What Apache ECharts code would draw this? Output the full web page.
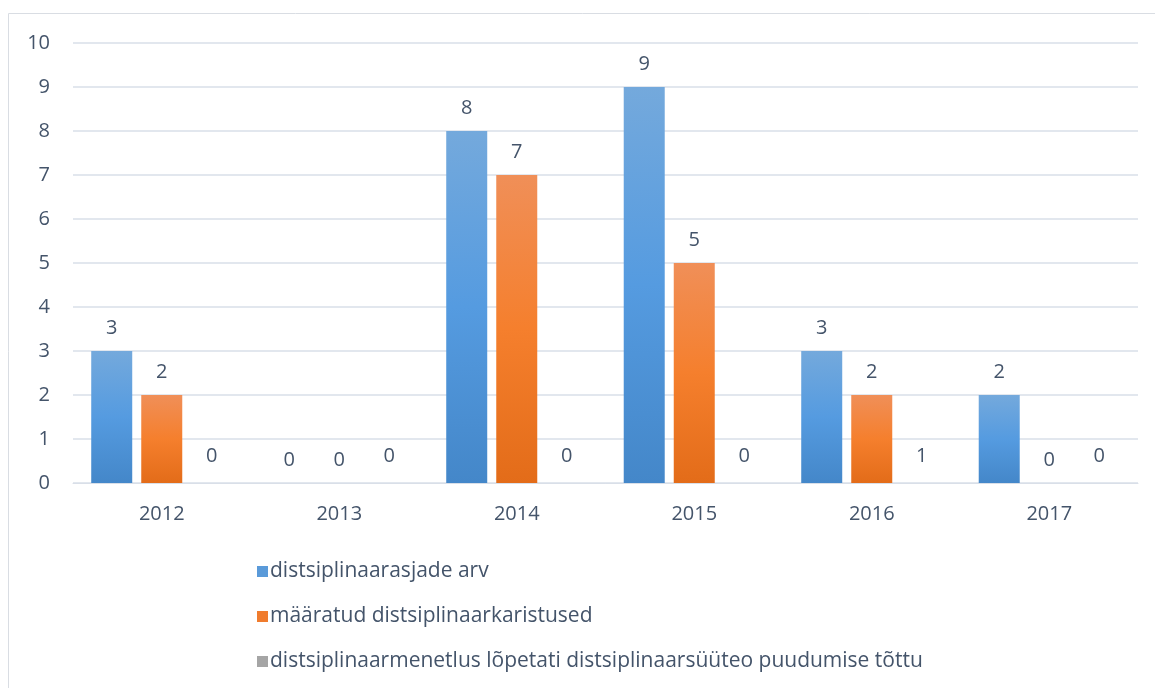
<!DOCTYPE html>
<html>
<head>
<meta charset="utf-8">
<script src="https://cdn.jsdelivr.net/npm/echarts@6/dist/echarts.min.js"></script>
<style>
  html, body { margin: 0; padding: 0; background: #fff; }
  #main { width: 1155px; height: 688px; }
</style>
</head>
<body>
<div id="main"></div>
<script>
var years = ['2012', '2013', '2014', '2015', '2016', '2017'];
var seriesNames = [
    'distsiplinaarasjade arv',
    'määratud distsiplinaarkaristused',
    'distsiplinaarmenetlus lõpetati distsiplinaarsüüteo puudumise tõttu'
];
var casesCount = [3, 0, 8, 9, 3, 2];
var penalties = [2, 0, 7, 5, 2, 0];
var terminated = [0, 0, 0, 0, 1, 0];
var yTicks = [0, 10, 1];

var textColor = '#44546a';
var font = 'Open Sans';
var fs = 20;

function grad(top, mid, bottom) {
    return new echarts.graphic.LinearGradient(0, 0, 0, 1, [
        { offset: 0, color: top },
        { offset: 0.5, color: mid },
        { offset: 1, color: bottom }
    ]);
}

var myChart = echarts.init(document.getElementById('main'));
var labelStyle = {
    show: true,
    position: 'top',
    distance: 13,
    color: textColor,
    fontSize: fs,
    fontFamily: font
};
option = {
    animation: false,
    graphic: [{
        type: 'rect',
        shape: { x: 8.5, y: 13.5, width: 1170, height: 700 },
        style: { fill: 'none', stroke: '#d9dde3', lineWidth: 1 }
    }],
    grid: { left: 73, right: 17, top: 43, bottom: 205 },
    legend: {
        orient: 'vertical',
        left: 252,
        top: 556,
        itemGap: 24,
        itemWidth: 11,
        itemHeight: 11,
        icon: 'rect',
        textStyle: { color: textColor, fontSize: fs + 1, lineHeight: 21, fontFamily: font, padding: [0, 0, 0, -3] },
        data: [
            { name: seriesNames[0], itemStyle: { color: '#5a9ad9' } },
            { name: seriesNames[1], itemStyle: { color: '#f07c2e' } },
            { name: seriesNames[2], itemStyle: { color: '#a5a5a5' } }
        ]
    },
    xAxis: {
        type: 'category',
        data: years,
        axisLine: { lineStyle: { color: '#d9dfe8' } },
        axisTick: { show: false },
        axisLabel: { color: textColor, fontSize: fs, fontFamily: font, margin: 21 }
    },
    yAxis: {
        type: 'value',
        min: yTicks[0],
        max: yTicks[1],
        interval: yTicks[2],
        axisLine: { show: false },
        axisTick: { show: false },
        axisLabel: { color: textColor, fontSize: fs, fontFamily: font, margin: 23 },
        splitLine: { lineStyle: { color: '#d9dfe8', width: 1.5 } }
    },
    series: [
        {
            name: seriesNames[0],
            type: 'bar',
            barWidth: 41,
            barGap: '22%',
            itemStyle: { color: grad('#74a9dc', '#559be0', '#4487c9') },
            label: labelStyle,
            data: casesCount
        },
        {
            name: seriesNames[1],
            type: 'bar',
            barWidth: 41,
            barGap: '22%',
            itemStyle: { color: grad('#f08f58', '#f57f2d', '#e36c19') },
            label: labelStyle,
            data: penalties
        },
        {
            name: seriesNames[2],
            type: 'bar',
            barWidth: 41,
            barGap: '22%',
            itemStyle: { color: 'rgba(0,0,0,0)' },
            label: {
                show: true,
                position: 'insideBottom',
                distance: 17,
                color: textColor,
                fontSize: fs,
                fontFamily: font
            },
            data: terminated
        }
    ]
};
myChart.setOption(option);
</script>
</body>
</html>
